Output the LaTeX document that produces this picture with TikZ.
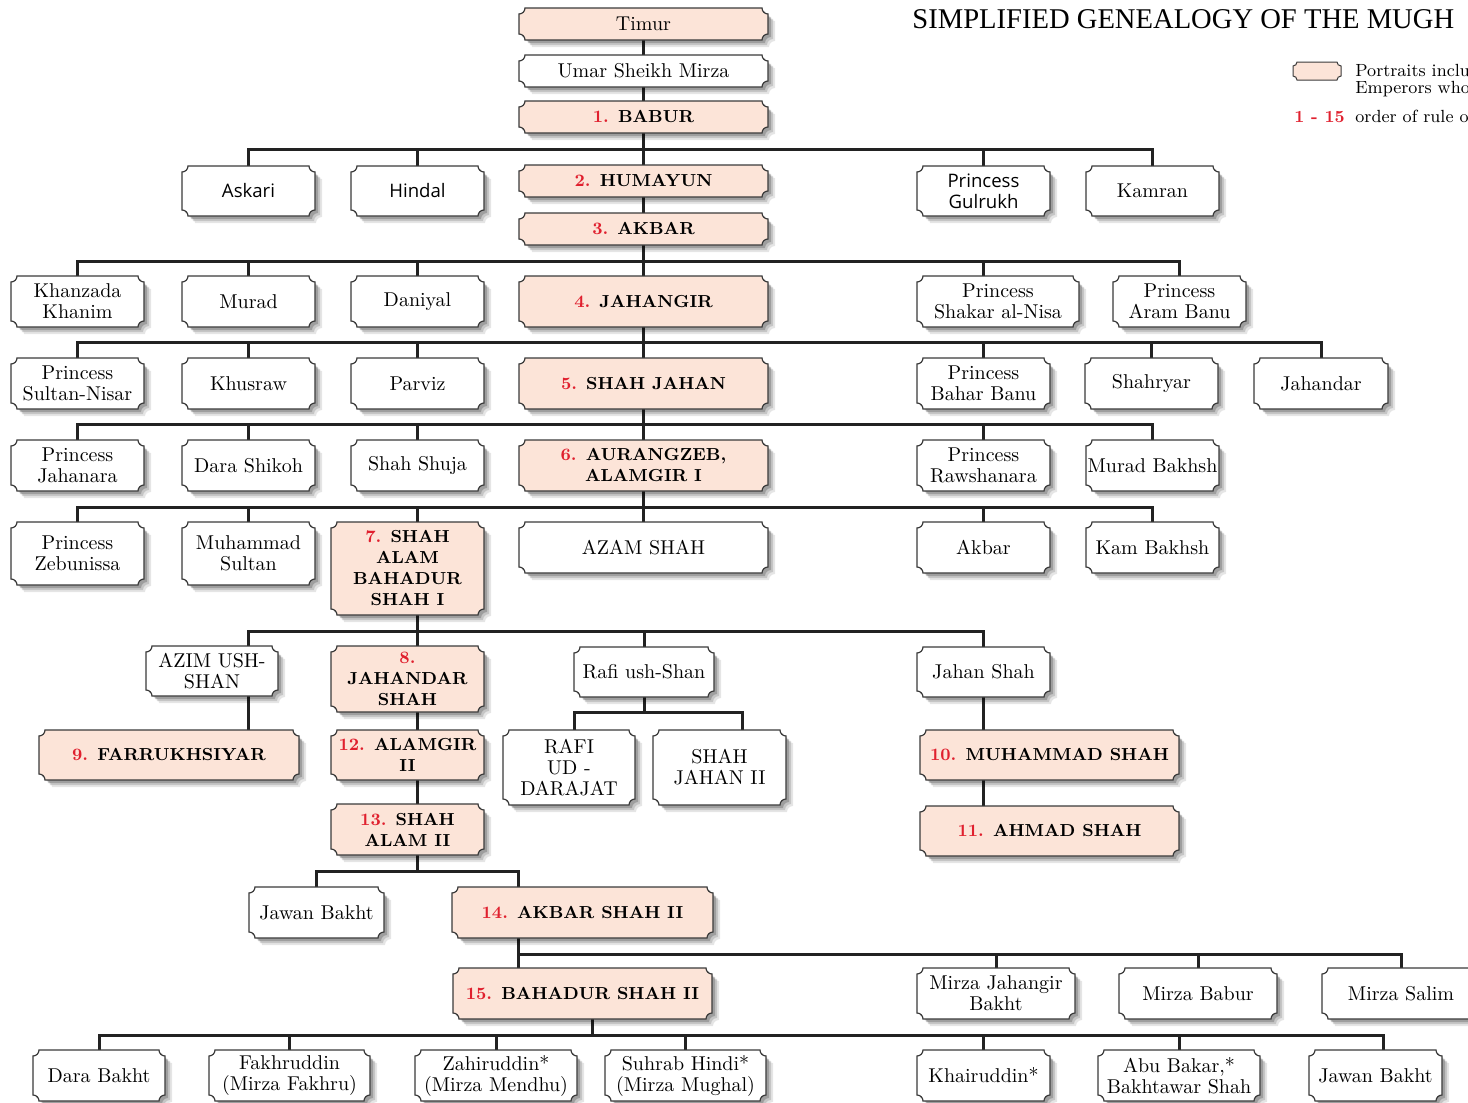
\documentclass[tikz,border=0pt]{standalone}
\usepackage{fontspec}
\newfontfamily\titlefont{Liberation Serif}
\newfontfamily\osans{Open Sans}
\usetikzlibrary{backgrounds}
\definecolor{peach}{HTML}{FCE4D8}
\definecolor{numred}{HTML}{E0202E}
\definecolor{boxline}{HTML}{3A3A3A}
\definecolor{connc}{HTML}{222222}
\newcommand\bxr{6}
\newcommand\bxk{3.3}
\newcommand\rn[1]{\textcolor{numred}{#1}}
\newcommand\bxshape[5]{%
 \path[#1] (#2+\bxr,#3) -- (#4-\bxr,#3) .. controls (#4-\bxr,#3+\bxk) and (#4-\bxk,#3+\bxr) .. (#4,#3+\bxr)
 -- (#4,#5-\bxr) .. controls (#4-\bxk,#5-\bxr) and (#4-\bxr,#5-\bxk) .. (#4-\bxr,#5)
 -- (#2+\bxr,#5) .. controls (#2+\bxr,#5-\bxk) and (#2+\bxk,#5-\bxr) .. (#2,#5-\bxr)
 -- (#2,#3+\bxr) .. controls (#2+\bxk,#3+\bxr) and (#2+\bxr,#3+\bxk) .. (#2+\bxr,#3) -- cycle;}
\newcommand\gbox[8]{%
 \bxshape{fill=black,opacity=.10,shift={(7,7)}}{#2}{#3}{#4}{#5}
 \bxshape{fill=black,opacity=.14,shift={(5,5)}}{#2}{#3}{#4}{#5}
 \bxshape{fill=black,opacity=.2,shift={(3,3)}}{#2}{#3}{#4}{#5}
 \bxshape{fill=#6,draw=boxline,line width=0.6pt}{#2}{#3}{#4}{#5}
 \node[gtext,#7,minimum width={(#4-#2)*0.5pt},minimum height={(#5-#3)*0.5pt}] (#1) at ({(#2+#4)/2},{(#3+#5)/2}) {#8};}
\tikzset{
 gtext/.style={inner sep=0pt,outer sep=0pt,align=center,text=black},
 rtext/.style={font=\fontsize{10}{10.5}\selectfont},
 btext/.style={font=\fontsize{8.7}{10.5}\selectfont\bfseries},
 stext/.style={font=\osans\fontsize{9.3}{10.5}\selectfont},
 conn/.style={draw=connc,line width=1.5pt},
}
\begin{document}
\begin{tikzpicture}[x=0.5pt,y=-0.5pt]
\useasboundingbox (0,0) rectangle (1468,1103);
% title and legend
\node[anchor=base west,inner sep=0pt,font=\titlefont\fontsize{14.3}{16}\selectfont] (title) at (912,28) {SIMPLIFIED GENEALOGY OF THE MUGH};
{\renewcommand\bxr{4}\renewcommand\bxk{2.2}
 \bxshape{fill=peach,draw=boxline,line width=0.5pt}{1293}{62}{1341}{80}}
\node[anchor=base west,inner sep=0pt,font=\fontsize{8.8}{10}\selectfont] (leg1) at (1355,76) {Portraits inclu};
\node[anchor=base west,inner sep=0pt,font=\fontsize{8.8}{10}\selectfont] (leg2) at (1355,93) {Emperors who};
\node[anchor=base west,inner sep=0pt,font=\fontsize{8.5}{10}\selectfont\bfseries,text=numred] (leg3) at (1294,122) {1 - 15};
\node[anchor=base west,inner sep=0pt,font=\fontsize{8.8}{10}\selectfont] (leg4) at (1355,122) {order of rule o};
% boxes
\gbox{timur}{519}{8}{768}{40}{peach}{rtext}{Timur}
\gbox{umar}{519}{55}{768}{87}{white}{rtext}{Umar Sheikh Mirza}
\gbox{babur}{519}{101}{768}{133}{peach}{btext}{\rn{1.} BABUR}
\gbox{askari}{182}{166}{315}{216}{white}{stext}{Askari}
\gbox{hindal}{351}{166}{484}{216}{white}{stext}{Hindal}
\gbox{humayun}{519}{165}{768}{197}{peach}{btext}{\rn{2.} HUMAYUN}
\gbox{gulrukh}{917}{166}{1050}{216}{white}{stext}{Princess\\Gulrukh}
\gbox{kamran}{1086}{166}{1219}{216}{white}{rtext}{Kamran}
\gbox{akbar}{519}{213}{768}{245}{peach}{btext}{\rn{3.} AKBAR}
\gbox{khanzada}{11}{276}{144}{327}{white}{rtext}{Khanzada\\Khanim}
\gbox{murad}{182}{276}{315}{327}{white}{rtext}{Murad}
\gbox{daniyal}{351}{276}{484}{327}{white}{rtext}{Daniyal}
\gbox{jahangir}{519}{276}{768}{327}{peach}{btext}{\rn{4.} JAHANGIR}
\gbox{shakar}{917}{276}{1079}{327}{white}{rtext}{Princess\\Shakar al-Nisa}
\gbox{aram}{1113}{276}{1246}{327}{white}{rtext}{Princess\\Aram Banu}
\gbox{sultannisar}{11}{358}{144}{409}{white}{rtext}{Princess\\Sultan-Nisar}
\gbox{khusraw}{182}{358}{315}{409}{white}{rtext}{Khusraw}
\gbox{parviz}{351}{358}{484}{409}{white}{rtext}{Parviz}
\gbox{shahjahan}{519}{358}{768}{409}{peach}{btext}{\rn{5.} SHAH JAHAN}
\gbox{baharbanu}{917}{358}{1050}{409}{white}{rtext}{Princess\\Bahar Banu}
\gbox{shahryar}{1085}{358}{1218}{409}{white}{rtext}{Shahryar}
\gbox{jahandar}{1254}{358}{1388}{409}{white}{rtext}{Jahandar}
\gbox{jahanara}{11}{440}{144}{491}{white}{rtext}{Princess\\Jahanara}
\gbox{darashikoh}{182}{440}{315}{491}{white}{rtext}{Dara Shikoh}
\gbox{shahshuja}{351}{440}{484}{491}{white}{rtext}{Shah Shuja}
\gbox{aurangzeb}{519}{440}{768}{491}{peach}{btext}{\rn{6.} AURANGZEB,\\ALAMGIR I}
\gbox{rawshanara}{917}{440}{1050}{491}{white}{rtext}{Princess\\Rawshanara}
\gbox{muradbakhsh}{1086}{440}{1219}{491}{white}{rtext}{Murad Bakhsh}
\gbox{zebunissa}{11}{522}{144}{585}{white}{rtext}{Princess\\Zebunissa}
\gbox{muhsultan}{182}{522}{315}{585}{white}{rtext}{Muhammad\\Sultan}
\gbox{shahalam}{331}{522}{484}{615}{peach}{btext}{\rn{7.} SHAH\\ALAM\\BAHADUR\\SHAH I}
\gbox{azamshah}{519}{522}{768}{573}{white}{rtext}{AZAM SHAH}
\gbox{akbarjr}{917}{522}{1050}{573}{white}{rtext}{Akbar}
\gbox{kambakhsh}{1086}{522}{1219}{573}{white}{rtext}{Kam Bakhsh}
\gbox{azim}{146}{646}{278}{696}{white}{rtext}{AZIM USH-\\SHAN}
\gbox{jahandarshah}{331}{646}{484}{712}{peach}{btext}{\rn{8.}\\JAHANDAR\\SHAH}
\gbox{rafiushshan}{574}{647}{714}{697}{white}{rtext}{Rafi ush-Shan}
\gbox{jahanshah}{917}{647}{1050}{697}{white}{rtext}{Jahan Shah}
\gbox{farrukhsiyar}{39}{730}{299}{780}{peach}{btext}{\rn{9.} FARRUKHSIYAR}
\gbox{alamgir}{331}{730}{484}{780}{peach}{btext}{\rn{12.} ALAMGIR\\II}
\gbox{rafiud}{503}{730}{635}{805}{white}{rtext}{RAFI\\UD -\\DARAJAT}
\gbox{shahjahantwo}{653}{730}{786}{805}{white}{rtext}{SHAH\\JAHAN II}
\gbox{muhammadshah}{920}{730}{1179}{780}{peach}{btext}{\rn{10.} MUHAMMAD SHAH}
\gbox{ahmadshah}{920}{806}{1179}{856}{peach}{btext}{\rn{11.} AHMAD SHAH}
\gbox{shahalamtwo}{331}{804}{484}{855}{peach}{btext}{\rn{13.} SHAH\\ALAM II}
\gbox{jawanbakht}{249}{887}{384}{938}{white}{rtext}{Jawan Bakht}
\gbox{akbarshahtwo}{452}{887}{713}{938}{peach}{btext}{\rn{14.} AKBAR SHAH II}
\gbox{bahadur}{453}{968}{712}{1019}{peach}{btext}{\rn{15.} BAHADUR SHAH II}
\gbox{mjahangir}{917}{968}{1075}{1019}{white}{rtext}{Mirza Jahangir\\Bakht}
\gbox{mbabur}{1119}{968}{1277}{1019}{white}{rtext}{Mirza Babur}
\gbox{msalim}{1322}{968}{1480}{1019}{white}{rtext}{Mirza Salim}
\gbox{darabakht}{33}{1050}{165}{1101}{white}{rtext}{Dara Bakht}
\gbox{fakhruddin}{209}{1050}{370}{1101}{white}{rtext}{Fakhruddin\\(Mirza Fakhru)}
\gbox{zahiruddin}{415}{1050}{577}{1101}{white}{rtext}{Zahiruddin*\\(Mirza Mendhu)}
\gbox{suhrab}{605}{1050}{766}{1101}{white}{rtext}{Suhrab Hindi*\\(Mirza Mughal)}
\gbox{khairuddin}{917}{1050}{1050}{1101}{white}{rtext}{Khairuddin*}
\gbox{abubakar}{1098}{1050}{1260}{1101}{white}{rtext}{Abu Bakar,*\\Bakhtawar Shah}
\gbox{jawanbakhttwo}{1309}{1050}{1442}{1101}{white}{rtext}{Jawan Bakht}
% connectors
\begin{scope}[on background layer]
\coordinate (b1) at (643,149);
\coordinate (b2) at (643,261);
\coordinate (b3) at (643,342);
\coordinate (b4) at (643,424);
\coordinate (b5) at (643,507);
\coordinate (b6) at (417,631);
\coordinate (b7) at (644,712);
\coordinate (b8) at (417,871);
\coordinate (b9) at (518,954);
\coordinate (b10) at (592,1035);
\draw[conn] (timur.south) -- (umar.north);
\draw[conn] (umar.south) -- (babur.north);
\draw[conn] (babur.south) -- (humayun.north);
\draw[conn] (askari.north) |- (b1) -| (kamran.north);
\draw[conn] (hindal.north) |- (b1);
\draw[conn] (gulrukh.north) |- (b1);
\draw[conn] (humayun.south) -- (akbar.north);
\draw[conn] (akbar.south) -- (jahangir.north);
\draw[conn] (khanzada.north) |- (b2) -| (aram.north);
\draw[conn] (murad.north) |- (b2);
\draw[conn] (daniyal.north) |- (b2);
\draw[conn] ([xshift=-7.5pt]shakar.north) |- (b2);
\draw[conn] (jahangir.south) -- (shahjahan.north);
\draw[conn] (sultannisar.north) |- (b3) -| (jahandar.north);
\draw[conn] (khusraw.north) |- (b3);
\draw[conn] (parviz.north) |- (b3);
\draw[conn] (baharbanu.north) |- (b3);
\draw[conn] (shahryar.north) |- (b3);
\draw[conn] (shahjahan.south) -- (aurangzeb.north);
\draw[conn] (jahanara.north) |- (b4) -| (muradbakhsh.north);
\draw[conn] (darashikoh.north) |- (b4);
\draw[conn] (shahshuja.north) |- (b4);
\draw[conn] (rawshanara.north) |- (b4);
\draw[conn] (aurangzeb.south) -- (azamshah.north);
\draw[conn] (zebunissa.north) |- (b5) -| (kambakhsh.north);
\draw[conn] (muhsultan.north) |- (b5);
\draw[conn] ([xshift=4.75pt]shahalam.north) |- (b5);
\draw[conn] (akbarjr.north) |- (b5);
\draw[conn] ([xshift=4.75pt]shahalam.south) -- ([xshift=4.75pt]jahandarshah.north);
\draw[conn] ([xshift=18pt]azim.north) |- (b6) -| (jahanshah.north);
\draw[conn] (rafiushshan.north) |- (b6);
\draw[conn] ([xshift=18pt]azim.south) -- ([xshift=18pt]azim.south |- farrukhsiyar.north);
\draw[conn] ([xshift=4.75pt]jahandarshah.south) -- ([xshift=4.75pt]alamgir.north);
\draw[conn] ([xshift=4.75pt]alamgir.south) -- ([xshift=4.75pt]shahalamtwo.north);
\draw[conn] (rafiushshan.south) -- (b7);
\draw[conn] ([xshift=2.5pt]rafiud.north) |- (b7) -| ([xshift=11.25pt]shahjahantwo.north);
\draw[conn] (jahanshah.south) -- (jahanshah.south |- muhammadshah.north);
\draw[conn] (jahanshah.south |- muhammadshah.south) -- (jahanshah.south |- ahmadshah.north);
\draw[conn] ([xshift=4.75pt]shahalamtwo.south) -- (b8);
\draw[conn] (jawanbakht.north) |- (b8) -| ([xshift=-32.25pt]akbarshahtwo.north);
\draw[conn] ([xshift=-32.25pt]akbarshahtwo.south) -- ([xshift=-32.25pt]akbarshahtwo.south |- bahadur.north);
\draw[conn] (b9) -| (msalim.north);
\draw[conn] (mjahangir.north) |- (b9);
\draw[conn] (mbabur.north) |- (b9);
\draw[conn] ([xshift=4.75pt]bahadur.south) -- (b10);
\draw[conn] (darabakht.north) |- (b10) -| ([xshift=4pt]jawanbakhttwo.north);
\draw[conn] (fakhruddin.north) |- (b10);
\draw[conn] (zahiruddin.north) |- (b10);
\draw[conn] (suhrab.north) |- (b10);
\draw[conn] (khairuddin.north) |- (b10);
\draw[conn] (abubakar.north) |- (b10);
\end{scope}
\end{tikzpicture}
\end{document}
